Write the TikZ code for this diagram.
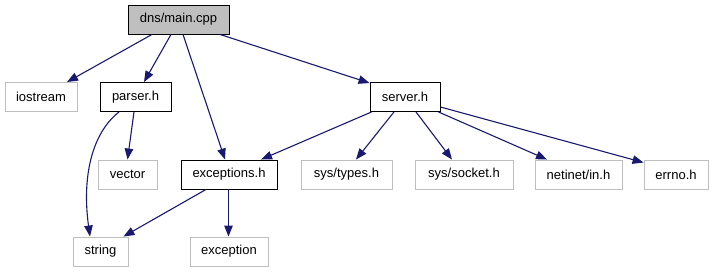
\documentclass[tikz,border=0pt]{standalone}
\usepackage{fontspec}
\setmainfont{Liberation Sans}
\usetikzlibrary{arrows.meta}

\definecolor{edgeblue}{HTML}{191970}
\definecolor{boxgray}{HTML}{BFBFBF}

\begin{document}
\begin{tikzpicture}[x=1pt, y=-1pt,
    hdr/.style={draw=black, line width=0.9pt, minimum height=29pt, inner sep=0pt, font=\fontsize{13}{15}\selectfont},
    sys/.style={draw=boxgray, line width=0.9pt, minimum height=29pt, inner sep=0pt, font=\fontsize{13}{15}\selectfont},
    dep/.style={draw=edgeblue, line width=1.1pt, -{Triangle[length=11pt,width=8.5pt]}}]
    \useasboundingbox (0,0) rectangle (712,272);
    % Source file
    \node[hdr, fill=boxgray, minimum width=101pt] (main) at (178.5,19.5) {dns/main.cpp};
    % First level
    \node[sys, minimum width=72pt] (iostream) at (41,97) {iostream};
    \node[hdr, minimum width=71pt] (parser) at (135.5,97) {parser.h};
    \node[hdr, minimum width=70pt] (server) at (405,97) {server.h};
    % Second level
    \node[sys, minimum width=59pt] (vector) at (127.5,174.5) {vector};
    \node[hdr, minimum width=96pt] (exceptions) at (229,174.5) {exceptions.h};
    \node[sys, minimum width=91pt] (systypes) at (346.5,174.5) {sys/types.h};
    \node[sys, minimum width=98pt] (syssocket) at (464,174.5) {sys/socket.h};
    \node[sys, minimum width=87pt] (netinet) at (578.5,174.5) {netinet/in.h};
    \node[sys, minimum width=64pt] (errno) at (676,174.5) {errno.h};
    % Third level
    \node[sys, minimum width=55pt] (string) at (100.5,251.5) {string};
    \node[sys, minimum width=78pt] (exception) at (229,251.5) {exception};
    % Includes of main.cpp
    \draw[dep] ([xshift=-26.5pt]main.south) -- ([xshift=26pt]iostream.north);
    \draw[dep] ([xshift=-7.5pt]main.south) -- ([xshift=8.5pt]parser.north);
    \draw[dep] ([xshift=4.5pt]main.south) -- ([xshift=-4pt]exceptions.north);
    \draw[dep] ([xshift=41.5pt]main.south) -- ([yshift=-1pt]server.north west);
    % Includes of parser.h
    \draw[dep] ([xshift=-1.5pt]parser.south) -- (vector.north);
    \draw[dep] ([xshift=-16.5pt]parser.south) .. controls +(-28,22) and +(-8,-58) .. ([xshift=-10.5pt]string.north);
    % Includes of server.h
    \draw[dep] ([xshift=2pt]server.south west) -- ([xshift=32pt]exceptions.north);
    \draw[dep] ([xshift=-11pt]server.south) -- ([xshift=9.5pt]systypes.north);
    \draw[dep] ([xshift=11pt]server.south) -- ([xshift=-12pt]syssocket.north);
    \draw[dep] ([xshift=-2pt]server.south east) -- ([xshift=-31.5pt]netinet.north);
    \draw[dep] ([yshift=-10pt]server.east) -- ([yshift=-3pt]errno.north west);
    % Includes of exceptions.h
    \draw[dep] ([xshift=-23pt]exceptions.south) -- ([xshift=-5pt]string.north east);
    \draw[dep] ([xshift=-0.5pt]exceptions.south) -- ([xshift=-0.5pt]exception.north);
\end{tikzpicture}
\end{document}
